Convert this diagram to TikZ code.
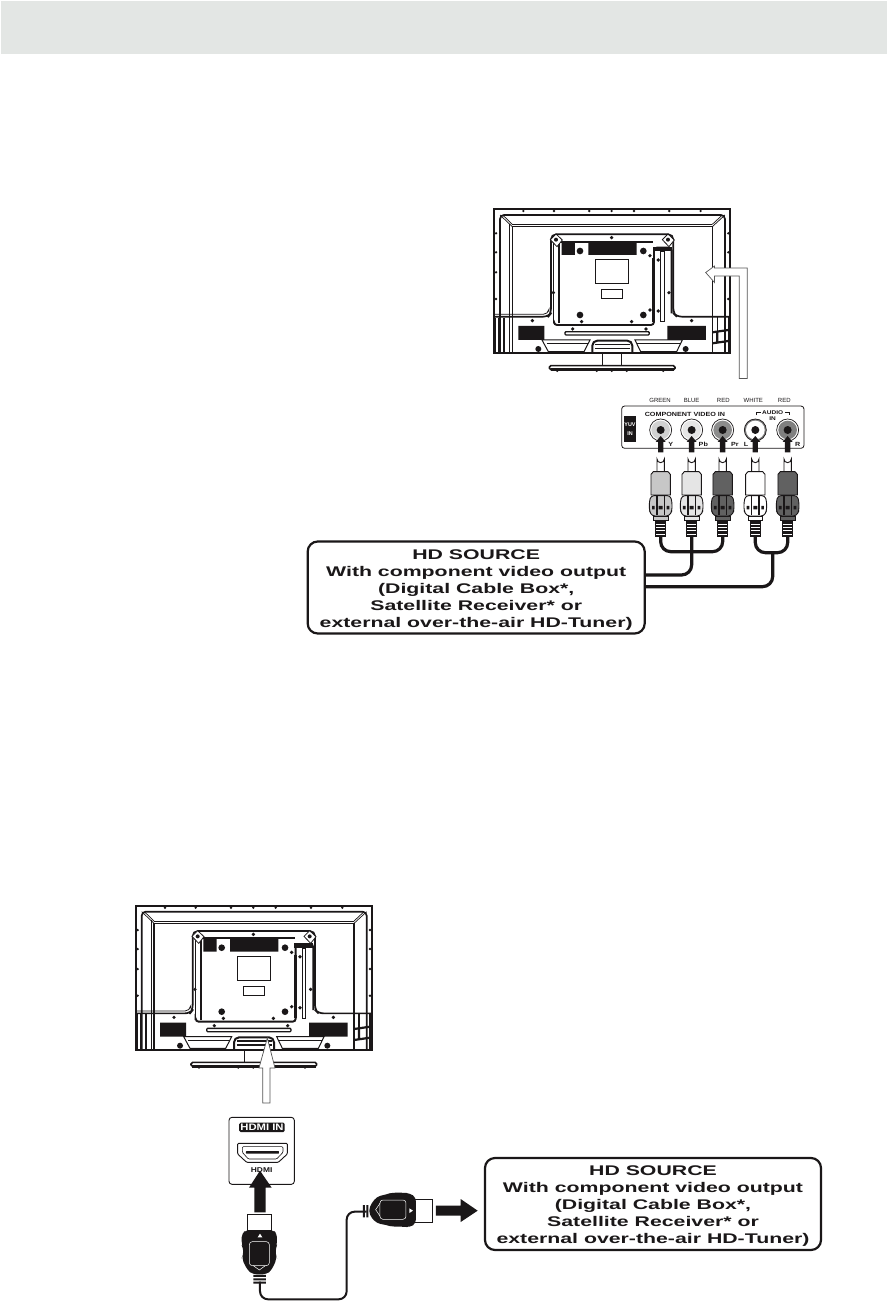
\documentclass[tikz,border=0pt]{standalone}
\usepackage{fontspec}
\setmainfont{Liberation Sans}
\newfontfamily\boxfont[FakeStretch=1.52]{Liberation Sans Bold}
\newfontfamily\widefont[FakeStretch=1.2]{Liberation Sans Bold}
\definecolor{band}{HTML}{E3E6E4}
\definecolor{ink}{HTML}{1A1718}
\definecolor{arrowgrey}{HTML}{555555}
\tikzset{
  ink line/.style={draw=ink,line width=#1},
  ink line/.default=0.8pt,
  sourcebox/.style={draw=ink,line width=2.2pt,rounded corners=10pt,fill=white},
  boxtext/.style={font=\boxfont\fontsize{14}{16.9}\selectfont,text=ink,align=center,inner sep=0pt},
  captxt/.style={font=\fontsize{6}{6}\selectfont,text=ink,inner sep=0pt},
  capb/.style={font=\widefont\fontsize{6}{6}\selectfont,text=ink,inner sep=0pt},
  cablek/.style={draw=ink,line width=3.2pt,rounded corners=10pt,line cap=round},
  hollowarrow/.style={draw=arrowgrey,line width=0.7pt,fill=white,line join=miter},
}
\newcommand{\tvback}[2]{%
\begin{scope}[shift={(#1,#2)},x=0.3333pt,y=-0.3333pt]
  \draw[ink line=2pt,fill=white] (42,42) rectangle (750,475);
  \foreach \x in {130,222,328,395,462,568,662} \fill[ink] (\x,48) circle (4);
  \foreach \y in {115,172,232,312} {\fill[ink] (48,\y) circle (4);\fill[ink] (745,\y) circle (4);}
  \draw[ink line=1.7pt,rounded corners=4pt] (60,475) -- (60,60) -- (735,60) -- (735,475);
  \draw[ink line=1.2pt] (97,475) -- (97,95) -- (697,95) -- (697,365);
  \draw[ink line=0.7pt] (60,60) -- (97,95) (735,60) -- (697,95) (68,60) -- (97,88) (727,60) -- (697,88);
  \draw[ink line=0.7pt] (88,86) -- (88,475) (97,88) -- (697,88);
  \draw[ink line=1.7pt,rounded corners=5pt] (42,365) -- (205,365) -- (213,355) -- (213,118) -- (580,118) -- (580,355) -- (590,365) -- (750,365);
  \draw[ink line=0.8pt,rounded corners=5pt] (42,358) -- (205,358) -- (206,350);
  \draw[ink line=0.8pt,rounded corners=5pt] (220,385) -- (220,125);
  \draw[ink line=1.8pt] (238,385) -- (238,140) -- (520,140);
  \draw[ink line=1.9pt,rounded corners=3pt] (222,385) -- (222,390) -- (522,390) -- (522,158) -- (575,158) -- (575,355);
  \fill[ink] (245,140) rectangle (285,180) (325,140) rectangle (470,180);
  \fill[ink] (518,155) rectangle (575,168);
  \fill[ink] (517,190) rectangle (526,380);
  \draw[ink line=0.8pt,fill=white] (541,170) rectangle (552,380);
  \foreach \a/\b in {228/134,564/134} {
    \draw[ink line=0.8pt,fill=white] (\a-17,\b) -- (\a,\b-17) -- (\a+19,\b+1) -- (\a+3,\b+21) -- cycle;
    \fill[ink] (\a,\b) circle (6);
  }
  \foreach \a/\b in {300/168,490/168,300/360,490/360} \fill[ink] (\a,\b) circle (10);
  \foreach \a/\b in {395/128,220/293,567/293,510/182,510/345,305/380,455/380,535/195,535/348,157/377,635/377,278/402,498/402} \fill[ink] (\a,\b) circle (5.5);
  \draw[ink line=1pt] (348,195) rectangle (445,265);
  \draw[ink line=1pt] (364,283) rectangle (428,312);
  \draw[ink line=1.3pt,rounded corners=1pt] (255,410) rectangle (508,420);
  \fill[ink] (115,393) rectangle (193,435) (562,393) rectangle (678,435);
  \draw[ink line=1pt] (186,435) -- (330,435) -- (312,470) -- (205,470) -- cycle;
  \draw[ink line=1pt] (465,435) -- (607,435) -- (590,470) -- (482,470) -- cycle;
  \draw[ink line=0.7pt] (200,445) -- (324,445) (471,445) -- (600,445);
  \draw[ink line=2pt,rounded corners=5pt] (337,473) -- (337,437) -- (457,437) -- (457,473);
  \draw[ink line=1.5pt] (345,448) -- (450,448) (345,460) -- (450,460);
  \fill[ink] (175,462) circle (9) (617,462) circle (9);
  % side clutter
  \draw[ink line=1.3pt] (46,368) -- (46,473) (57,368) -- (57,473);
  \draw[ink line=2.2pt] (72,368) -- (72,473);
  \draw[ink line=1.4pt] (697,365) -- (697,473) (712,365) -- (712,411) (735,365) -- (735,473) (745,365) -- (745,473);
  \draw[ink line=2.2pt] (697,412) -- (745,405) (712,412) -- (712,445) (697,445) -- (745,438);
  % neck and base
  \draw[ink line=1pt] (368,475) -- (368,512) (425,475) -- (425,512);
  \draw[ink line=1.6pt,fill=white,rounded corners=1.5pt] (208,512) rectangle (585,524);
  \fill[ink] (212,520) rectangle (582,528);
  \foreach \x in {232,350,395,440,550} \fill[ink] (\x,528) circle (3.5);
\end{scope}}
\newcommand{\rcaplug}[2]{%
\begin{scope}[shift={(#1,0)}]
  \draw[ink line=0.9pt,fill=white] (-11,275) -- (-11,237) arc (180:0:11) -- (11,275);
  \draw[ink line=0.9pt,fill=#2] (-29,283) -- (-22,275) -- (22,275) -- (29,283) -- (29,345) -- (-29,345) -- cycle;
  \draw[ink line=0.9pt,fill=#2,rounded corners=3pt] (-29,347) -- (29,347) -- (34,365) -- (34,392) -- (26,408) -- (-26,408) -- (-34,392) -- (-34,365) -- cycle;
  \draw[ink line=1.2pt] (-11,347) -- (-11,405) (11,347) -- (11,405);
  \fill[ink] (-26,378) rectangle (-18,388) (-6,378) rectangle (6,388) (18,378) rectangle (26,388);
  \draw[ink line=0.9pt,fill=#2] (-22,408) rectangle (22,422);
  \fill[ink] (-16,422) rectangle (16,470);
  \foreach \y in {432,442,452,462} \draw[white,line width=0.6pt] (-13,\y) -- (13,\y);
\end{scope}}
\begin{document}
\begin{tikzpicture}[x=1pt,y=-1pt]
\useasboundingbox (0,0) rectangle (887,1301);
\fill[white] (0,0) rectangle (887,1301);
\fill[band] (1,1) rectangle (887,54);

\tvback{480}{195}
\draw[hollowarrow] (739.3,378.5) -- (739.3,276) -- (714.5,276) -- (714.5,282.5) -- (705.7,272.5) -- (714.5,266) -- (714.5,268) -- (747.3,268) -- (747.3,378.5) -- cycle;

\begin{scope}[shift={(600,380)},x=0.3333pt,y=-0.3333pt]
  \draw[ink line=0.8pt,rounded corners=3pt] (65,78) rectangle (612,205);
  \foreach \x/\t in {180/GREEN,275/BLUE,370/RED,460/WHITE,553/RED} \node[captxt] at (\x,60) {\t};
  \fill[ink] (72,108) rectangle (108,185);
  \node[font=\bfseries\fontsize{5.4}{9}\selectfont,text=white,align=center,inner sep=0pt] (yuv) at (90,146) {YUV\\IN};
  \node[capb] (cvi) at (255,102) {COMPONENT VIDEO IN};
  \node[font=\widefont\fontsize{5.4}{5.6}\selectfont,text=ink,align=center,inner sep=0pt] (aud) at (518,106) {AUDIO\\IN};
  \draw[ink line=0.8pt] (470,106) -- (470,97) -- (482,97) (555,97) -- (567,97) -- (567,106);
  \foreach \x/\c/\d in {182/black!18/white,275/black!10/white,368/black!45/white,466/white/black!50,563/black!50/white} {
    \draw[ink line=0.7pt,fill=\d] (\x,150) circle (33);
    \fill[\c] (\x,150) circle (28);
    \fill[ink] (\x,150) circle (12);
  }
  \foreach \x in {182,275,368,466,563} {
    \fill[ink] (\x-8,217) -- (\x-8,186) -- (\x-15,186) -- (\x,168) -- (\x+15,186) -- (\x+8,186) -- (\x+8,217) -- cycle;
  }
  \node[capb] at (212,193) {Y};
  \node[capb] at (310,194) {Pb};
  \node[capb] at (405,194) {Pr};
  \node[capb] at (438,194) {L};
  \node[capb] at (593,194) {R};
  \draw[cablek] (182,470) -- (182,515) -- (368,515) -- (368,470);
  \draw[cablek] (275,470) -- (275,585) -- (135,585);
  \draw[cablek] (466,470) -- (466,518) -- (563,518) -- (563,470);
  \draw[cablek] (518,518) -- (518,620) -- (135,620);
  \rcaplug{182}{black!22}
  \rcaplug{275}{black!10}
  \rcaplug{368}{black!62}
  \rcaplug{466}{white}
  \rcaplug{563}{black!62}
\end{scope}

\node[sourcebox,minimum width=337pt,minimum height=92pt,inner sep=0pt] (src1) at (476.2,587.5) {};
\node[boxtext] (src1t) at (476.2,589.8) {HD SOURCE\\With component video output\\(Digital Cable Box*,\\Satellite Receiver* or\\external over-the-air HD-Tuner)};

\tvback{121.7}{891.7}
\draw[hollowarrow] (262.7,1103) -- (262.7,1068) -- (259,1068) -- (267.3,1038) -- (275,1068) -- (270,1068) -- (270,1103) -- cycle;

\begin{scope}[shift={(210,1100)},x=0.3333pt,y=-0.3333pt]
  \draw[ink line=0.9pt,rounded corners=3pt] (57,52) rectangle (253,253);
  \node[fill=ink,rounded corners=1.5pt,text=white,font=\widefont\fontsize{9.4}{9.4}\selectfont,inner xsep=0pt,inner ysep=0pt,minimum width=45.5pt,minimum height=9.5pt] (hin) at (156,82) {HDMI IN};
  \draw[ink line=0.9pt,rounded corners=1pt] (83,130) -- (232,130) -- (232,162) -- (205,187) -- (110,187) -- (83,162) -- cycle;
  \draw[ink line=0.6pt,rounded corners=1pt] (97,140) -- (219,140) -- (219,157) -- (200,177) -- (115,177) -- (97,157) -- cycle;
  \fill[ink,rounded corners=0.5pt] (108,153) rectangle (207,161);
  \node[font=\widefont\fontsize{7}{7}\selectfont,text=ink,inner sep=0pt] (hl) at (155,210) {HDMI};
  \fill[ink] (133,337) -- (133,263) -- (117,263) -- (150,212) -- (185,263) -- (167,263) -- (167,337) -- cycle;
  \draw[ink line=2pt,rounded corners=8pt] (150,545) -- (150,598) -- (410,598) -- (410,335) -- (470,335);
  \draw[ink line=0.9pt,fill=white] (113,343) rectangle (185,392);
  \fill[ink,rounded corners=4pt] (95,400) -- (110,390) -- (188,390) -- (201,400) -- (201,435) -- (197,445) -- (197,465) -- (201,475) -- (185,510) -- (170,523) -- (128,523) -- (112,510) -- (95,475) -- (100,465) -- (100,445) -- (95,435) -- cycle;
  \draw[white,line width=0.5pt,rounded corners=3pt] (118,425) rectangle (178,497);
  \draw[white,line width=0.5pt] (130,497) -- (148,510) -- (166,497);
  \fill[white] (143,412) -- (150,401) -- (157,412) -- cycle;
  \fill[ink] (130,525) rectangle (168,531) (130,535) rectangle (168,541) (130,545) rectangle (168,551);
  \fill[ink] (459,315) rectangle (465,352) (469,315) rectangle (475,352);
  \draw[ink line=0.9pt,fill=white] (610,297) rectangle (667,366);
  \fill[ink,rounded corners=4pt] (478,320) -- (500,290) -- (530,283) -- (545,278) -- (580,278) -- (600,280) -- (618,292) -- (618,370) -- (600,382) -- (580,380) -- (545,380) -- (530,375) -- (500,370) -- (478,345) -- cycle;
  \draw[white,line width=0.5pt,rounded corners=3pt] (510,300) rectangle (588,358);
  \draw[white,line width=0.5pt] (510,310) -- (497,329) -- (510,348);
  \fill[white] (598,325) -- (609,332) -- (598,339) -- cycle;
  \fill[ink] (678,317) -- (752,317) -- (752,297) -- (803,332) -- (752,366) -- (752,347) -- (678,347) -- cycle;
\end{scope}

\node[sourcebox,minimum width=336pt,minimum height=92pt,inner sep=0pt] (src2) at (653,1204) {};
\node[boxtext] (src2t) at (653,1206.3) {HD SOURCE\\With component video output\\(Digital Cable Box*,\\Satellite Receiver* or\\external over-the-air HD-Tuner)};
\end{tikzpicture}
\end{document}
